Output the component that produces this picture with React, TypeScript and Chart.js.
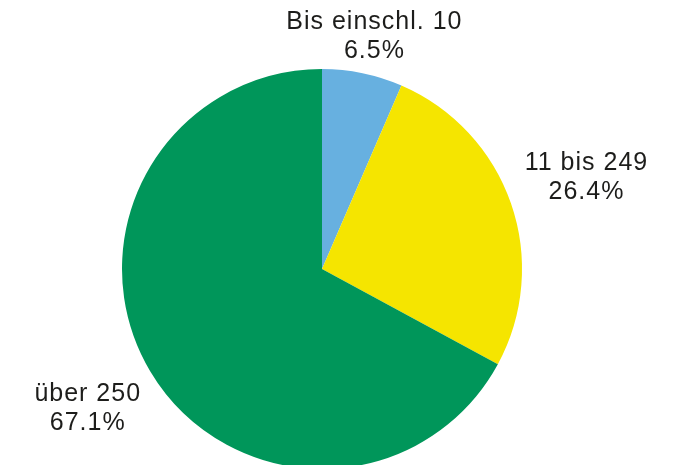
import React, { useEffect, useRef } from "react";
import { Chart, registerables } from "chart.js";

Chart.register(...registerables);

const categories = ["Bis einschl. 10", "11 bis 249", "über 250"];
const values = [6.5, 26.4, 67.1];
const valueLabels = ["6.5%", "26.4%", "67.1%"];
const colors = ["#67B0E0", "#F5E500", "#00965A"];

const FONT = '25px "Liberation Sans", Arial, sans-serif';
const LINE_H = 29;
const GAP = 12;
const TOP_LIMIT = 8;

const outsideLabels = {
  id: "outsideLabels",
  afterDatasetsDraw(chart: any) {
    const ctx = chart.ctx;
    const meta = chart.getDatasetMeta(0);
    ctx.save();
    ctx.font = FONT;
    try {
      (ctx as any).letterSpacing = "1px";
    } catch (e) {}
    ctx.fillStyle = "#1d1d1b";
    ctx.textAlign = "center";
    ctx.textBaseline = "middle";
    meta.data.forEach((arc: any, i: number) => {
      const { x, y, startAngle, endAngle, outerRadius } = arc.getProps(
        ["x", "y", "startAngle", "endAngle", "outerRadius"],
        true
      );
      const mid = (startAngle + endAngle) / 2;
      const cx = Math.cos(mid);
      const sy = Math.sin(mid);
      const lines = [categories[i], valueLabels[i]];
      const w = Math.max(...lines.map((l) => ctx.measureText(l).width));
      const h = lines.length * LINE_H;
      const d = outerRadius + GAP + Math.abs(cx) * (w / 2) + Math.abs(sy) * (h / 2);
      const px = x + cx * d;
      let py = y + sy * d;
      if (py - h / 2 < TOP_LIMIT) py = TOP_LIMIT + h / 2;
      lines.forEach((l, k) => {
        ctx.fillText(l, px, py - h / 2 + LINE_H / 2 + k * LINE_H);
      });
    });
    ctx.restore();
  },
};

export default function App() {
  const ref = useRef<HTMLCanvasElement>(null);
  useEffect(() => {
    document.body.style.margin = "0";
    document.body.style.background = "#ffffff";
    const chart = new Chart(ref.current!, {
      type: "pie",
      data: {
        labels: categories,
        datasets: [
          {
            data: values,
            backgroundColor: colors,
            borderWidth: 0,
          },
        ],
      },
      options: {
        responsive: false,
        animation: false,
        layout: { padding: { left: 0, right: 31, top: 69, bottom: 11 } },
        plugins: {
          legend: { display: false },
          tooltip: { enabled: false },
        },
      },
      plugins: [outsideLabels],
    });
    return () => chart.destroy();
  }, []);
  return (
    <div style={{ width: 675, height: 465, overflow: "hidden", background: "#fff" }}>
      <canvas ref={ref} width={675} height={480} />
    </div>
  );
}
